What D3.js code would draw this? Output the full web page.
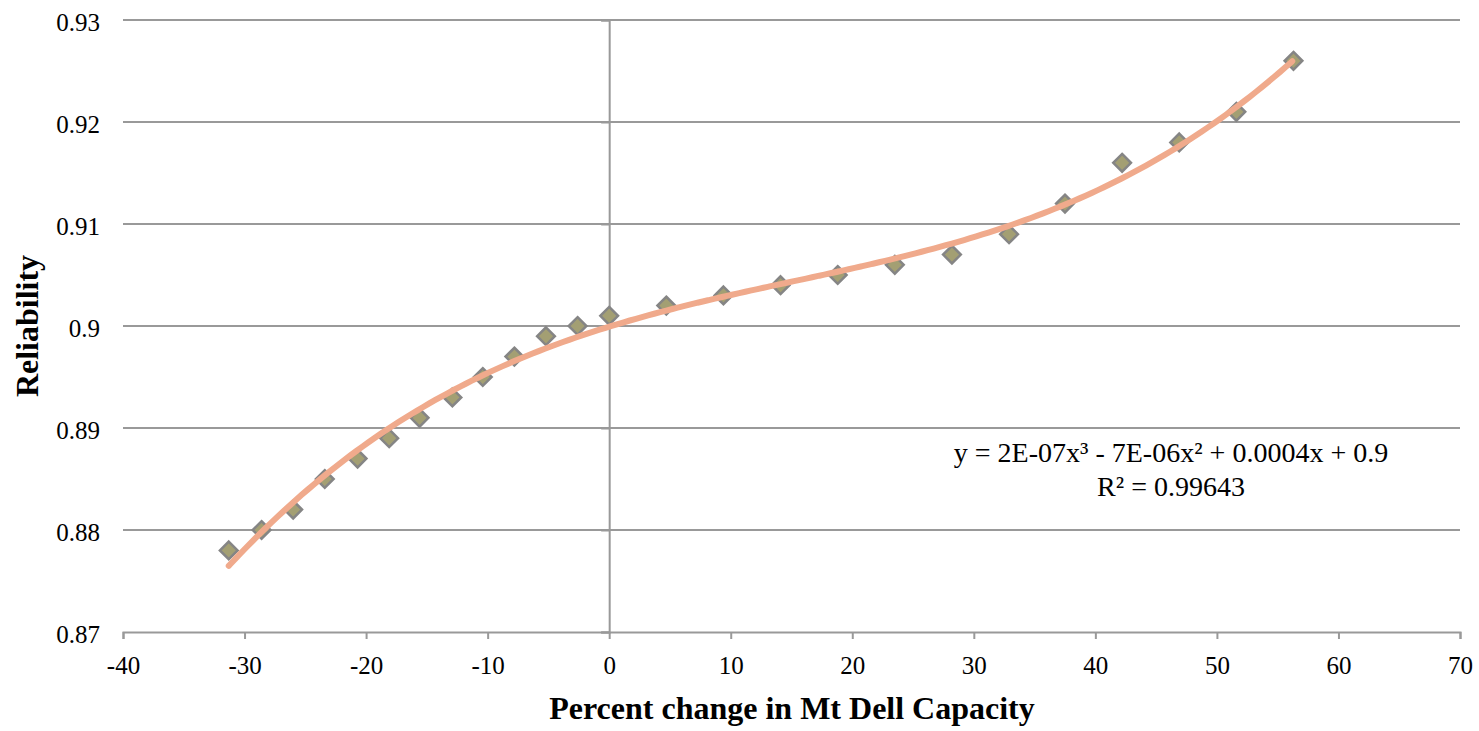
<!DOCTYPE html>
<html>
<head>
<meta charset="utf-8">
<script src="https://cdn.jsdelivr.net/npm/d3@7"></script>
<style>
body { margin: 0; background: #fff; }
svg text { font-family: "Liberation Serif", "Times New Roman", serif; fill: #000; }
</style>
</head>
<body>
<div class="diagram"></div>
<script>
// readings
const capChange = [-31.3, -28.6, -26.0, -23.4, -20.7, -18.1, -15.6, -12.9, -10.4, -7.8, -5.2, -2.6, 0,
  4.7, 9.4, 14.1, 18.8, 23.5, 28.2, 32.9, 37.5, 42.2, 46.9, 51.6, 56.3];
const reliability = [0.878, 0.880, 0.882, 0.885, 0.887, 0.889, 0.891, 0.893, 0.895, 0.897, 0.899, 0.900, 0.901,
  0.902, 0.903, 0.904, 0.905, 0.906, 0.907, 0.909, 0.912, 0.916, 0.918, 0.921, 0.926];
const xTicks = [-40, -30, -20, -10, 0, 10, 20, 30, 40, 50, 60, 70];
const yTicks = [0.87, 0.88, 0.89, 0.90, 0.91, 0.92, 0.93];
const eqLines = ["y = 2E-07x³ - 7E-06x² + 0.0004x + 0.9", "R² = 0.99643"];

const w = 1479, h = 731,
  padL = 123, padR = 1460, padT = 20, padB = 632;

const svg = d3.select(".diagram")
  .append("svg")
  .attr("width", w)
  .attr("height", h);

const xScale = d3.scaleLinear().domain([-40, 70]).range([padL, padR]);
const yScale = d3.scaleLinear().domain([0.87, 0.93]).range([padB, padT]);

// gridlines
svg.append("g")
  .selectAll("line")
  .data(yTicks.slice(1))
  .enter()
  .append("line")
  .attr("x1", padL)
  .attr("x2", padR)
  .attr("y1", d => yScale(d))
  .attr("y2", d => yScale(d))
  .attr("stroke", "#999")
  .attr("stroke-width", 2);

// x axis along the bottom
const xAxis = d3.axisBottom(xScale)
  .tickValues(xTicks)
  .tickSize(7)
  .tickFormat(d => String(d));
const gx = svg.append("g")
  .attr("transform", "translate(0," + padB + ")")
  .call(xAxis);
gx.select(".domain").attr("stroke", "#999").attr("stroke-width", 2);
gx.selectAll(".tick line").attr("stroke", "#999").attr("stroke-width", 2);
gx.selectAll(".tick text")
  .attr("y", 24)
  .attr("font-size", 25);

// y axis crosses at x = 0, labels sit at the left
const x0 = xScale(0);
const yAxis = d3.axisLeft(yScale)
  .tickValues(yTicks)
  .tickSize(8)
  .tickFormat("");
const gy = svg.append("g")
  .attr("transform", "translate(" + x0 + ",0)")
  .call(yAxis);
gy.select(".domain").attr("stroke", "#999").attr("stroke-width", 2);
gy.selectAll(".tick line").attr("stroke", "#999").attr("stroke-width", 2);

svg.append("g")
  .selectAll("text")
  .data(yTicks)
  .enter()
  .append("text")
  .attr("x", 100)
  .attr("y", d => yScale(d))
  .attr("dy", "0.42em")
  .attr("text-anchor", "end")
  .attr("font-size", 25)
  .text(d => d3.format(".2~f")(d));

// cubic least-squares trendline
function polyFit(xs, ys, deg) {
  const n = deg + 1;
  const A = [];
  for (let i = 0; i < n; i++) {
    A.push([]);
    for (let j = 0; j <= n; j++) A[i].push(0);
  }
  xs.forEach((x, k) => {
    for (let i = 0; i < n; i++) {
      for (let j = 0; j < n; j++) A[i][j] += Math.pow(x, i + j);
      A[i][n] += ys[k] * Math.pow(x, i);
    }
  });
  for (let i = 0; i < n; i++) {
    let p = i;
    for (let r = i + 1; r < n; r++) if (Math.abs(A[r][i]) > Math.abs(A[p][i])) p = r;
    [A[i], A[p]] = [A[p], A[i]];
    for (let r = 0; r < n; r++) {
      if (r === i) continue;
      const f = A[r][i] / A[i][i];
      for (let c = i; c <= n; c++) A[r][c] -= f * A[i][c];
    }
  }
  return A.map((row, i) => row[n] / row[i]);
}
const coef = polyFit(capChange, reliability, 3);
const fit = x => coef.reduce((s, c, i) => s + c * Math.pow(x, i), 0);
const xs = d3.range(capChange[0], capChange[capChange.length - 1] + 0.01, 0.5);

const points = capChange.map((x, i) => [x, reliability[i]]);

const diamond = d3.symbol().type(d3.symbolDiamond2).size(200);
svg.append("g")
  .selectAll("path")
  .data(points)
  .enter()
  .append("path")
  .attr("d", diamond)
  .attr("transform", d => "translate(" + xScale(d[0]) + "," + yScale(d[1]) + ")")
  .attr("fill", "#a39f73")
  .attr("stroke", "#858585")
  .attr("stroke-width", 2.5);

svg.append("path")
  .datum(xs)
  .attr("d", d3.line().x(d => xScale(d)).y(d => yScale(fit(d))).curve(d3.curveBasis))
  .attr("fill", "none")
  .attr("stroke", "#f0aa8c")
  .attr("stroke-width", 6)
  .attr("stroke-linecap", "round");

// equation label
svg.append("g")
  .selectAll("text")
  .data(eqLines)
  .enter()
  .append("text")
  .attr("x", 1171)
  .attr("y", (d, i) => 462 + i * 34)
  .attr("text-anchor", "middle")
  .attr("font-size", 28)
  .text(d => d);

// axis titles
svg.append("text")
  .attr("x", 792)
  .attr("y", 719)
  .attr("text-anchor", "middle")
  .attr("font-size", 32)
  .attr("font-weight", "bold")
  .text("Percent change in Mt Dell Capacity");

svg.append("text")
  .attr("transform", "translate(38,326) rotate(-90)")
  .attr("text-anchor", "middle")
  .attr("font-size", 32)
  .attr("font-weight", "bold")
  .text("Reliability");
</script>
</body>
</html>
